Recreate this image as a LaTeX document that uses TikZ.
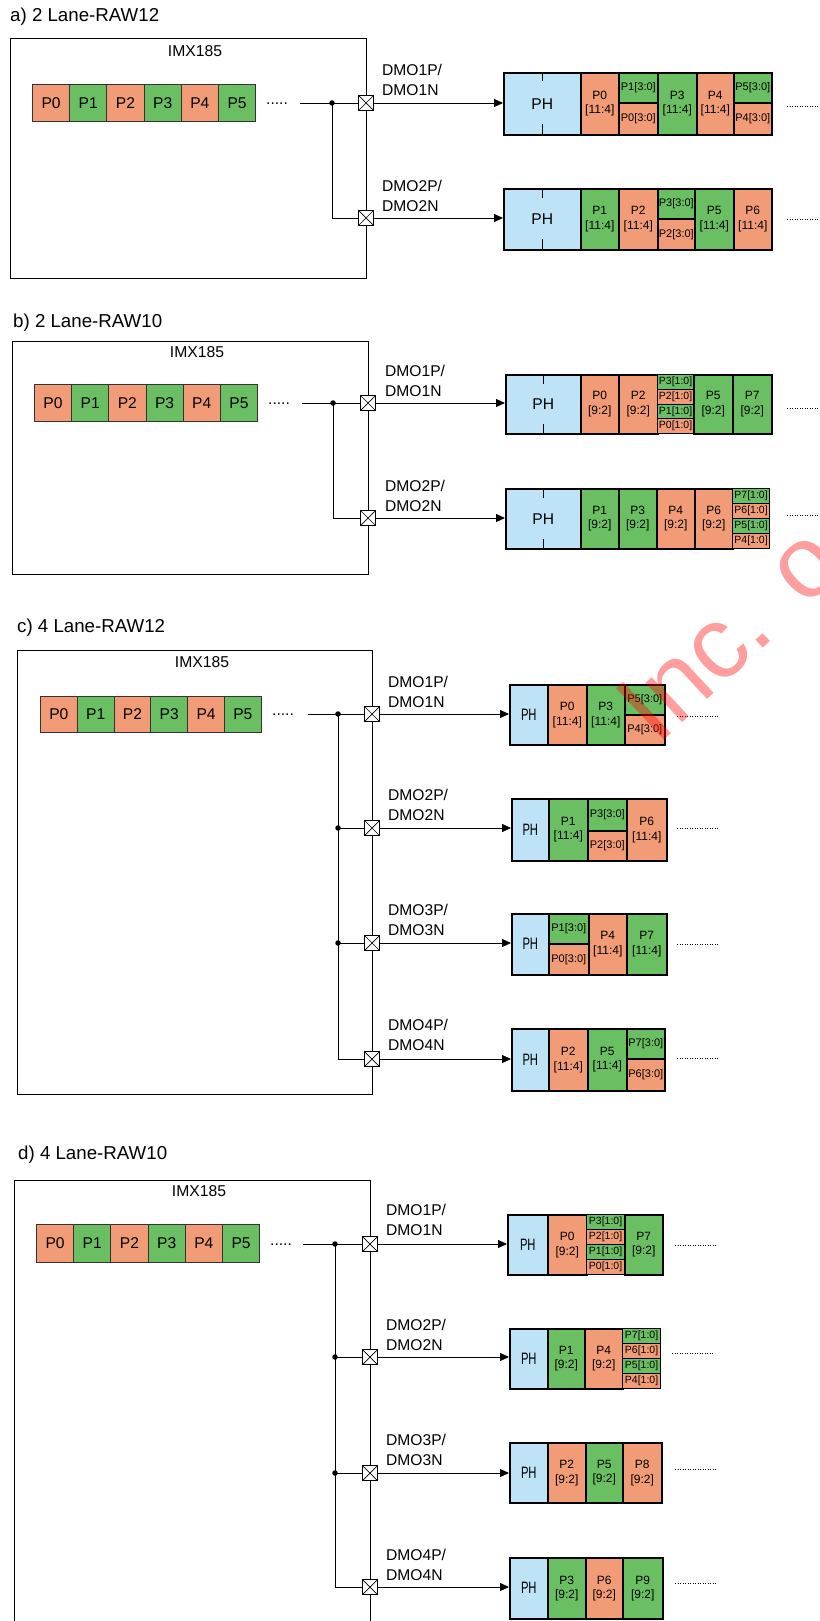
\documentclass[tikz,border=0pt]{standalone}
\usepackage{fontspec}
\usepackage{graphicx}
\setmainfont{Liberation Sans}
\usetikzlibrary{arrows.meta}
\definecolor{cor}{HTML}{F29B77}
\definecolor{cgr}{HTML}{6ABF62}
\definecolor{cbl}{HTML}{BEE3F7}
\newcommand\cbx[8]{\node[#7=#6, minimum width={#4-#2}, minimum height={#5-#3}] (#1) at (#2,#3) {#8};}
\newcommand\pxrow[5]{\foreach \i/\cc in {0/cor,1/cgr,2/cor,3/cgr,4/cor,5/cgr}{\node[px=\cc, minimum width=#4, minimum height=#5] (#1\i) at ({#2+\i*#4},#3) {P\i};}}
\newcommand\phc{\scalebox{0.68}[1]{PH}}
\begin{document}
\begin{tikzpicture}[x=1pt,y=-1pt,
 chip/.style={draw, line width=1.4pt, anchor=north west, inner sep=0pt},
 px/.style={draw=black!80, line width=0.9pt, fill=#1, anchor=north west, inner sep=0pt, font=\fontsize{15.6}{18}\selectfont},
 lc/.style={draw, line width=1.6pt, fill=#1, anchor=north west, inner sep=0pt, align=center, font=\fontsize{12}{14.5}\selectfont},
 ls/.style={lc=#1, font=\fontsize{11}{12}\selectfont},
 lt/.style={lc=#1, line width=1.2pt, font=\fontsize{10.5}{12}\selectfont},
 ph/.style={lc=#1, font=\fontsize{15.6}{18}\selectfont},
 phb/.style={lc=#1, font=\fontsize{16.5}{18}\selectfont},
 sw/.style={draw, fill=white, line width=0.8pt, minimum size=15pt, inner sep=0pt,
   path picture={\draw[line width=0.7pt] (path picture bounding box.north west) -- (path picture bounding box.south east)
   (path picture bounding box.north east) -- (path picture bounding box.south west);}},
 jn/.style={circle, fill, inner sep=0pt, minimum size=5.5pt},
 lbl/.style={anchor=west, align=left, inner sep=0pt, font=\fontsize{15.6}{19.5}\selectfont},
 ttl/.style={anchor=west, inner sep=0pt, font=\fontsize{18.7}{22}\selectfont},
 chipname/.style={inner sep=0pt, font=\fontsize{15.7}{18}\selectfont},
 dots/.style={anchor=base, inner sep=0pt, font=\fontsize{15.6}{18}\selectfont},
 arr/.style={line width=0.9pt, -{Triangle[length=9pt,width=8pt]}},
 wire/.style={line width=0.9pt},
 tick/.style={line width=1.6pt},
 dotl/.style={line width=0.8pt, dash pattern=on 0.8pt off 1.7pt},
 wm/.style={inner sep=0pt, text=red, opacity=0.38, font=\fontsize{102}{102}\selectfont}
]
\useasboundingbox (0,0) rectangle (819,1621);

% ================= a) =================
\node[ttl] (aT) at (10,17) {a) 2 Lane-RAW12};
\node[chip, minimum width=356, minimum height=240] (aB) at (10,38) {};
\node[chipname] (aI) at (195,51) {IMX185};
\pxrow{ap}{32}{84}{37.2}{37}
\node[dots] (aDt) at (277,104.5) {.....};
\coordinate (aL) at (300,103);
\node[jn] (aJ) at (332,103) {};
\node[sw] (aS1) at (366,103) {};
\node[sw] (aS2) at (366,218) {};
\draw[wire] (aL) -- (aS1.west);
\draw[wire] (aJ.center) |- (aS2.west);
\node[lbl] (aD1) at (382,80) {DMO1P/\\DMO1N};
\node[lbl] (aD2) at (382,196) {DMO2P/\\DMO2N};
% lane a1
\cbx{aH1}{503}{72}{580}{134}{cbl}{ph}{PH}
\cbx{a1c1}{580}{72}{618}{134}{cor}{lc}{P0\\{}[11:4]}
\cbx{a1c2}{618}{72}{657}{102}{cgr}{ls}{P1[3:0]}
\cbx{a1c3}{618}{102}{657}{134}{cor}{ls}{P0[3:0]}
\cbx{a1c4}{657}{72}{696}{134}{cgr}{lc}{P3\\{}[11:4]}
\cbx{a1c5}{696}{72}{733}{134}{cor}{lc}{P4\\{}[11:4]}
\cbx{a1c6}{733}{72}{771}{102}{cgr}{ls}{P5[3:0]}
\cbx{a1c7}{733}{102}{771}{134}{cor}{ls}{P4[3:0]}
\draw[tick] (aH1.north) -- ++(0,9) (aH1.south) -- ++(0,-12);
\draw[arr] (aS1.east) -- (aS1.east -| aH1.west);
\coordinate (a1e) at (787,106);
\draw[dotl] (a1e) -- ++(32,0);
% lane a2
\cbx{aH2}{503}{188}{580}{249}{cbl}{ph}{PH}
\cbx{a2c1}{580}{188}{618}{249}{cgr}{lc}{P1\\{}[11:4]}
\cbx{a2c2}{618}{188}{657}{249}{cor}{lc}{P2\\{}[11:4]}
\cbx{a2c3}{657}{188}{694}{218}{cgr}{ls}{P3[3:0]}
\cbx{a2c4}{657}{218}{694}{249}{cor}{ls}{P2[3:0]}
\cbx{a2c5}{694}{188}{733}{249}{cgr}{lc}{P5\\{}[11:4]}
\cbx{a2c6}{733}{188}{771}{249}{cor}{lc}{P6\\{}[11:4]}
\draw[tick] (aH2.north) -- ++(0,10) (aH2.south) -- ++(0,-12);
\draw[arr] (aS2.east) -- (aS2.east -| aH2.west);
\coordinate (a2e) at (787,219);
\draw[dotl] (a2e) -- ++(32,0);

% ================= b) =================
\node[ttl] (bT) at (13,323) {b) 2 Lane-RAW10};
\node[chip, minimum width=356, minimum height=233] (bB) at (12,341) {};
\node[chipname] (bI) at (197,352) {IMX185};
\pxrow{bp}{34}{384}{37.17}{37}
\node[dots] (bDt) at (279,404.5) {.....};
\coordinate (bL) at (302,403);
\node[jn] (bJ) at (333,403) {};
\node[sw] (bS1) at (368,403) {};
\node[sw] (bS2) at (368,518) {};
\draw[wire] (bL) -- (bS1.west);
\draw[wire] (bJ.center) |- (bS2.west);
\node[lbl] (bD1) at (385,381) {DMO1P/\\DMO1N};
\node[lbl] (bD2) at (385,496) {DMO2P/\\DMO2N};
% lane b1
\cbx{bH1}{505}{374}{580}{433}{cbl}{ph}{PH}
\cbx{b1c1}{580}{374}{618}{433}{cor}{lc}{P0\\{}[9:2]}
\cbx{b1c2}{618}{374}{657}{433}{cor}{lc}{P2\\{}[9:2]}
\cbx{b1c3}{657}{374}{693}{389}{cgr}{lt}{P3[1:0]}
\cbx{b1c4}{657}{389}{693}{404}{cor}{lt}{P2[1:0]}
\cbx{b1c5}{657}{404}{693}{418}{cgr}{lt}{P1[1:0]}
\cbx{b1c6}{657}{418}{693}{433}{cor}{lt}{P0[1:0]}
\cbx{b1c7}{693}{374}{732}{433}{cgr}{lc}{P5\\{}[9:2]}
\cbx{b1c8}{732}{374}{771}{433}{cgr}{lc}{P7\\{}[9:2]}
\draw[tick] (bH1.north) -- ++(0,10) (bH1.south) -- ++(0,-11);
\draw[arr] (bS1.east) -- (bS1.east -| bH1.west);
\coordinate (b1e) at (787,408);
\draw[dotl] (b1e) -- ++(32,0);
% lane b2
\cbx{bH2}{505}{488}{580}{548}{cbl}{ph}{PH}
\cbx{b2c1}{580}{488}{618}{548}{cgr}{lc}{P1\\{}[9:2]}
\cbx{b2c2}{618}{488}{656}{548}{cgr}{lc}{P3\\{}[9:2]}
\cbx{b2c3}{656}{488}{694}{548}{cor}{lc}{P4\\{}[9:2]}
\cbx{b2c4}{694}{488}{732}{548}{cor}{lc}{P6\\{}[9:2]}
\cbx{b2c5}{732}{488}{769}{503}{cgr}{lt}{P7[1:0]}
\cbx{b2c6}{732}{503}{769}{518}{cor}{lt}{P6[1:0]}
\cbx{b2c7}{732}{518}{769}{533}{cgr}{lt}{P5[1:0]}
\cbx{b2c8}{732}{533}{769}{548}{cor}{lt}{P4[1:0]}
\draw[tick] (bH2.north) -- ++(0,10) (bH2.south) -- ++(0,-11);
\draw[arr] (bS2.east) -- (bS2.east -| bH2.west);
\coordinate (b2e) at (787,515);
\draw[dotl] (b2e) -- ++(32,0);

% ================= c) =================
\node[ttl] (cT) at (17,628) {c) 4 Lane-RAW12};
\node[chip, minimum width=355, minimum height=444] (cB) at (17,650) {};
\node[chipname] (cI) at (202,662) {IMX185};
\pxrow{cp}{40}{696}{36.8}{36}
\node[dots] (cDt) at (283,715.5) {.....};
\coordinate (cL) at (308,714);
\node[jn] (cJ1) at (338,714) {};
\node[jn] (cJ2) at (338,828) {};
\node[jn] (cJ3) at (338,943) {};
\node[sw] (cS1) at (372,714) {};
\node[sw] (cS2) at (372,828) {};
\node[sw] (cS3) at (372,943) {};
\node[sw] (cS4) at (372,1059) {};
\draw[wire] (cL) -- (cS1.west);
\draw[wire] (cJ1.center) |- (cS4.west);
\draw[wire] (cJ2.center) -- (cS2.west);
\draw[wire] (cJ3.center) -- (cS3.west);
\node[lbl] (cD1) at (388,692) {DMO1P/\\DMO1N};
\node[lbl] (cD2) at (388,805) {DMO2P/\\DMO2N};
\node[lbl] (cD3) at (388,920) {DMO3P/\\DMO3N};
\node[lbl] (cD4) at (388,1035) {DMO4P/\\DMO4N};
% lane c1
\cbx{cH1}{509}{684}{547}{744}{cbl}{phb}{\phc}
\cbx{c1c1}{547}{684}{586}{744}{cor}{lc}{P0\\{}[11:4]}
\cbx{c1c2}{586}{684}{624}{744}{cgr}{lc}{P3\\{}[11:4]}
\cbx{c1c3}{624}{684}{664}{714}{cgr}{ls}{P5[3:0]}
\cbx{c1c4}{624}{714}{664}{744}{cor}{ls}{P4[3:0]}
\draw[arr] (cS1.east) -- (cS1.east -| cH1.west);
\coordinate (c1e) at (677,716);
\draw[dotl] (c1e) -- ++(41,0);
% lane c2
\cbx{cH2}{511}{798}{548}{860}{cbl}{phb}{\phc}
\cbx{c2c1}{548}{798}{587}{860}{cgr}{lc}{P1\\{}[11:4]}
\cbx{c2c2}{587}{798}{626}{830}{cgr}{ls}{P3[3:0]}
\cbx{c2c3}{587}{830}{626}{860}{cor}{ls}{P2[3:0]}
\cbx{c2c4}{626}{798}{666}{860}{cor}{lc}{P6\\{}[11:4]}
\draw[arr] (cS2.east) -- (cS2.east -| cH2.west);
\coordinate (c2e) at (677,828);
\draw[dotl] (c2e) -- ++(41,0);
% lane c3
\cbx{cH3}{511}{913}{548}{974}{cbl}{phb}{\phc}
\cbx{c3c1}{548}{913}{588}{943}{cgr}{ls}{P1[3:0]}
\cbx{c3c2}{548}{943}{588}{974}{cor}{ls}{P0[3:0]}
\cbx{c3c3}{588}{913}{626}{974}{cor}{lc}{P4\\{}[11:4]}
\cbx{c3c4}{626}{913}{666}{974}{cgr}{lc}{P7\\{}[11:4]}
\draw[arr] (cS3.east) -- (cS3.east -| cH3.west);
\coordinate (c3e) at (677,944);
\draw[dotl] (c3e) -- ++(41,0);
% lane c4
\cbx{cH4}{511}{1028}{548}{1090}{cbl}{phb}{\phc}
\cbx{c4c1}{548}{1028}{587}{1090}{cor}{lc}{P2\\{}[11:4]}
\cbx{c4c2}{587}{1028}{626}{1090}{cgr}{lc}{P5\\{}[11:4]}
\cbx{c4c3}{626}{1028}{664}{1058}{cgr}{ls}{P7[3:0]}
\cbx{c4c4}{626}{1058}{664}{1090}{cor}{ls}{P6[3:0]}
\draw[arr] (cS4.east) -- (cS4.east -| cH4.west);
\coordinate (c4e) at (677,1058);
\draw[dotl] (c4e) -- ++(41,0);

% ================= d) =================
\node[ttl] (dT) at (18,1155) {d) 4 Lane-RAW10};
\node[chip, minimum width=356, minimum height=470] (dB) at (14,1180) {};
\node[chipname] (dI) at (199,1191) {IMX185};
\pxrow{dp}{36}{1224}{37.2}{38}
\node[dots] (dDt) at (281,1245.5) {.....};
\coordinate (dL) at (303,1244);
\node[jn] (dJ1) at (335,1244) {};
\node[jn] (dJ2) at (335,1357) {};
\node[jn] (dJ3) at (335,1473) {};
\node[sw] (dS1) at (370,1244) {};
\node[sw] (dS2) at (370,1357) {};
\node[sw] (dS3) at (370,1473) {};
\node[sw] (dS4) at (370,1587) {};
\draw[wire] (dL) -- (dS1.west);
\draw[wire] (dJ1.center) |- (dS4.west);
\draw[wire] (dJ2.center) -- (dS2.west);
\draw[wire] (dJ3.center) -- (dS3.west);
\node[lbl] (dD1) at (386,1220) {DMO1P/\\DMO1N};
\node[lbl] (dD2) at (386,1335) {DMO2P/\\DMO2N};
\node[lbl] (dD3) at (386,1450) {DMO3P/\\DMO3N};
\node[lbl] (dD4) at (386,1565) {DMO4P/\\DMO4N};
% lane d1
\cbx{dH1}{507}{1214}{547}{1274}{cbl}{phb}{\phc}
\cbx{d1c1}{547}{1214}{586}{1274}{cor}{lc}{P0\\{}[9:2]}
\cbx{d1c2}{586}{1214}{624}{1229}{cgr}{lt}{P3[1:0]}
\cbx{d1c3}{586}{1229}{624}{1244}{cor}{lt}{P2[1:0]}
\cbx{d1c4}{586}{1244}{624}{1259}{cgr}{lt}{P1[1:0]}
\cbx{d1c5}{586}{1259}{624}{1274}{cor}{lt}{P0[1:0]}
\cbx{d1c6}{624}{1214}{662}{1274}{cgr}{lc}{P7\\{}[9:2]}
\draw[arr] (dS1.east) -- (dS1.east -| dH1.west);
\coordinate (d1e) at (675,1245);
\draw[dotl] (d1e) -- ++(42,0);
% lane d2
\cbx{dH2}{509}{1328}{547}{1388}{cbl}{phb}{\phc}
\cbx{d2c1}{547}{1328}{584}{1388}{cgr}{lc}{P1\\{}[9:2]}
\cbx{d2c2}{584}{1328}{622}{1388}{cor}{lc}{P4\\{}[9:2]}
\cbx{d2c3}{622}{1328}{660}{1343}{cgr}{lt}{P7[1:0]}
\cbx{d2c4}{622}{1343}{660}{1358}{cor}{lt}{P6[1:0]}
\cbx{d2c5}{622}{1358}{660}{1373}{cgr}{lt}{P5[1:0]}
\cbx{d2c6}{622}{1373}{660}{1388}{cor}{lt}{P4[1:0]}
\draw[arr] (dS2.east) -- (dS2.east -| dH2.west);
\coordinate (d2e) at (672,1353);
\draw[dotl] (d2e) -- ++(41,0);
% lane d3
\cbx{dH3}{509}{1442}{547}{1502}{cbl}{phb}{\phc}
\cbx{d3c1}{547}{1442}{585}{1502}{cor}{lc}{P2\\{}[9:2]}
\cbx{d3c2}{585}{1442}{622}{1502}{cgr}{lc}{P5\\{}[9:2]}
\cbx{d3c3}{622}{1442}{661}{1502}{cor}{lc}{P8\\{}[9:2]}
\draw[arr] (dS3.east) -- (dS3.east -| dH3.west);
\coordinate (d3e) at (675,1469);
\draw[dotl] (d3e) -- ++(42,0);
% lane d4
\cbx{dH4}{509}{1557}{547}{1618}{cbl}{phb}{\phc}
\cbx{d4c1}{547}{1557}{585}{1618}{cgr}{lc}{P3\\{}[9:2]}
\cbx{d4c2}{585}{1557}{622}{1618}{cor}{lc}{P6\\{}[9:2]}
\cbx{d4c3}{622}{1557}{662}{1618}{cgr}{lc}{P9\\{}[9:2]}
\draw[arr] (dS4.east) -- (dS4.east -| dH4.west);
\coordinate (d4e) at (675,1583);
\draw[dotl] (d4e) -- ++(42,0);

% watermark
\node[wm, rotate=43, anchor=base west] (wmk) at (657,747) {Inc. o};
\end{tikzpicture}
\end{document}
